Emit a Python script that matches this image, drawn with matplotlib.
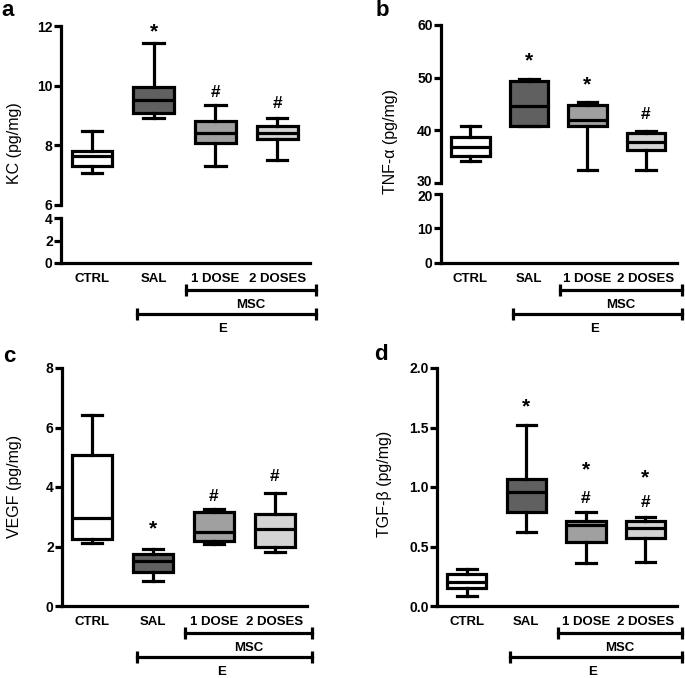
import matplotlib
matplotlib.use('Agg')
import matplotlib.pyplot as plt
import matplotlib.transforms as mtransforms
from matplotlib import font_manager

groups = ['CTRL', 'SAL', '1 DOSE', '2 DOSES']

# box stats: min, q1, median, q3, max
kc_min = [7.06, 8.93, 7.32, 7.51]
kc_q1 = [7.31, 9.09, 8.07, 8.20]
kc_med = [7.64, 9.52, 8.40, 8.42]
kc_q3 = [7.82, 9.94, 8.83, 8.65]
kc_max = [8.48, 11.44, 9.35, 8.93]

tnf_min = [34.2, 40.8, 32.4, 32.4]
tnf_q1 = [35.1, 40.8, 40.8, 36.2]
tnf_med = [36.9, 44.6, 41.9, 37.8]
tnf_q3 = [38.8, 49.4, 44.9, 39.5]
tnf_max = [40.8, 49.7, 45.4, 39.8]

vegf_min = [2.11, 0.84, 2.09, 1.83]
vegf_q1 = [2.24, 1.13, 2.20, 1.97]
vegf_med = [2.95, 1.51, 2.50, 2.60]
vegf_q3 = [5.07, 1.75, 3.17, 3.08]
vegf_max = [6.41, 1.92, 3.26, 3.81]

tgf_min = [0.087, 0.62, 0.365, 0.373]
tgf_q1 = [0.15, 0.79, 0.536, 0.57]
tgf_med = [0.20, 0.954, 0.68, 0.654]
tgf_q3 = [0.27, 1.066, 0.718, 0.718]
tgf_max = [0.31, 1.52, 0.794, 0.746]

# significance marks: (group index, y, symbol)
kc_marks = [(1, 11.8, '*'), (2, 9.77, '#'), (3, 9.41, '#')]
tnf_marks = [(1, 53.2, '*'), (2, 48.6, '*'), (3, 43.0, '#')]
vegf_marks = [(1, 2.6, '*'), (2, 3.68, '#'), (3, 4.35, '#')]
tgf_marks = [(1, 1.67, '*'), (2, 1.14, '*'), (2, 0.906, '#'),
             (3, 1.08, '*'), (3, 0.87, '#')]

box_colors = ['white', '#606060', '#a0a0a0', '#d4d4d4']
LW = 2.3

names = {f.name for f in font_manager.fontManager.ttflist}
narrow = 'Liberation Sans Narrow' if 'Liberation Sans Narrow' in names else 'Liberation Sans'
xtick_size = 10.5 if narrow == 'Liberation Sans Narrow' else 9.5
ytick_size = 11 if narrow == 'Liberation Sans Narrow' else 10

plt.rcParams['font.family'] = ['Liberation Sans', 'DejaVu Sans']

W, H = 685, 678
fig = plt.figure(figsize=(W / 100, H / 100), dpi=100)


def rect(l, t, r, b):
    return [l / W, 1 - b / H, (r - l) / W, (b - t) / H]


def style_axis(ax, yticks, fmt, bottom=True):
    ax.set_xlim(0.5, 4.53)
    for s in ['top', 'right']:
        ax.spines[s].set_visible(False)
    ax.spines['left'].set_linewidth(LW)
    ax.spines['bottom'].set_linewidth(LW)
    ax.spines['bottom'].set_visible(bottom)
    ax.set_yticks(yticks)
    ax.set_yticklabels([fmt.format(v) for v in yticks],
                       fontfamily=narrow, fontweight='bold', fontsize=ytick_size)
    ax.tick_params(axis='y', direction='out', length=5, width=LW, pad=1)
    ax.set_xticks([1, 2, 3, 4])
    if bottom:
        ax.set_xticklabels(groups, fontfamily=narrow, fontweight='bold',
                           fontsize=xtick_size)
        ax.tick_params(axis='x', length=0, pad=7)
    else:
        ax.tick_params(axis='x', length=0, labelbottom=False)


def nudge(label, px):
    label.set_transform(label.get_transform() +
                        mtransforms.ScaledTranslation(0, px / 100, fig.dpi_scale_trans))


def draw_boxes(ax, mins, q1s, meds, q3s, maxs, marks):
    stats = []
    for i in range(4):
        stats.append({'whislo': mins[i], 'q1': q1s[i], 'med': meds[i],
                      'q3': q3s[i], 'whishi': maxs[i], 'fliers': []})
    bp = ax.bxp(stats, positions=[1, 2, 3, 4], widths=0.66, capwidths=0.33,
                patch_artist=True, showfliers=False, manage_ticks=False,
                boxprops=dict(linewidth=LW, edgecolor='black'),
                medianprops=dict(linewidth=LW, color='black'),
                whiskerprops=dict(linewidth=LW, color='black'),
                capprops=dict(linewidth=LW, color='black'))
    for patch, c in zip(bp['boxes'], box_colors):
        patch.set_facecolor(c)
    for gi, y, sym in marks:
        ax.text(gi + 1, y, sym, ha='center', va='center',
                fontsize=15 if sym == '*' else 12.5, fontweight='bold')


def brackets(ax):
    base = mtransforms.blended_transform_factory(ax.transData, ax.transAxes)

    def below(px):
        return base + mtransforms.ScaledTranslation(0, -px / 100, fig.dpi_scale_trans)

    ax.plot([2.53, 4.62], [0, 0], color='black', lw=LW, marker='|', ms=8,
            mew=LW, transform=below(27), clip_on=False)
    ax.text(3.575, 0, 'MSC', ha='center', va='center', fontfamily=narrow,
            fontweight='bold', fontsize=xtick_size, transform=below(42))
    ax.plot([1.73, 4.62], [0, 0], color='black', lw=LW, marker='|', ms=8,
            mew=LW, transform=below(51), clip_on=False)
    ax.text(3.12, 0, 'E', ha='center', va='center', fontfamily=narrow,
            fontweight='bold', fontsize=xtick_size, transform=below(66))


# panel a (broken axis)
ax_a = fig.add_axes(rect(61, 26, 310, 205))
ax_a2 = fig.add_axes(rect(61, 218, 310, 263))
draw_boxes(ax_a, kc_min, kc_q1, kc_med, kc_q3, kc_max, kc_marks)
ax_a.set_ylim(6, 12)
ax_a2.set_ylim(0, 4)
style_axis(ax_a, [6, 8, 10, 12], '{:g}', bottom=False)
style_axis(ax_a2, [0, 2, 4], '{:g}')
nudge(ax_a.get_yticklabels()[0], 1)
nudge(ax_a2.get_yticklabels()[-1], -1)
brackets(ax_a2)

# panel b (broken axis)
ax_b = fig.add_axes(rect(441, 25, 677, 183))
ax_b2 = fig.add_axes(rect(441, 194, 677, 263))
draw_boxes(ax_b, tnf_min, tnf_q1, tnf_med, tnf_q3, tnf_max, tnf_marks)
ax_b.set_ylim(30, 60)
ax_b2.set_ylim(0, 20)
style_axis(ax_b, [30, 40, 50, 60], '{:g}', bottom=False)
style_axis(ax_b2, [0, 10, 20], '{:g}')
nudge(ax_b.get_yticklabels()[0], 2)
nudge(ax_b2.get_yticklabels()[-1], -2)
brackets(ax_b2)

# panel c
ax_c = fig.add_axes(rect(62, 368, 307, 606))
draw_boxes(ax_c, vegf_min, vegf_q1, vegf_med, vegf_q3, vegf_max, vegf_marks)
ax_c.set_ylim(0, 8)
style_axis(ax_c, [0, 2, 4, 6, 8], '{:g}')
brackets(ax_c)

# panel d
ax_d = fig.add_axes(rect(437, 368, 677, 606))
draw_boxes(ax_d, tgf_min, tgf_q1, tgf_med, tgf_q3, tgf_max, tgf_marks)
ax_d.set_ylim(0, 2)
style_axis(ax_d, [0, 0.5, 1.0, 1.5, 2.0], '{:.1f}')
brackets(ax_d)

# y labels and panel letters
ylabels = [(15, 143, 'KC (pg/mg)'), (390, 142, 'TNF-α (pg/mg)'),
           (15, 486, 'VEGF (pg/mg)'), (384, 484, 'TGF-β (pg/mg)')]
for x, y, t in ylabels:
    fig.text(x / W, 1 - y / H, t, rotation=90, ha='center', va='center',
             fontsize=11.5)

letters = [(8, 11, 'a'), (382, 11, 'b'), (9, 357, 'c'), (381, 355, 'd')]
for x, y, t in letters:
    fig.text(x / W, 1 - y / H, t, ha='center', va='center', fontsize=16,
             fontweight='bold')

fig.savefig('out.png', dpi=100)
